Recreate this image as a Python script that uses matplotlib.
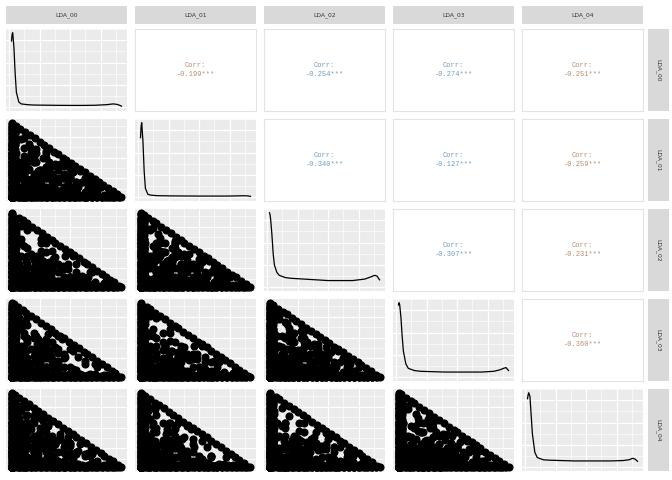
import io

import numpy as np
import pandas as pd
import matplotlib
matplotlib.use("Agg")
import matplotlib.pyplot as plt
from matplotlib.ticker import MultipleLocator

labels = ["LDA_00", "LDA_01", "LDA_02", "LDA_03", "LDA_04"]

# correlation text shown in the upper triangle (row, col) -> value
corr_text = {
    (0, 1): "-0.199", (0, 2): "-0.254", (0, 3): "-0.274", (0, 4): "-0.251",
    (1, 2): "-0.340", (1, 3): "-0.127", (1, 4): "-0.259",
    (2, 3): "-0.307", (2, 4): "-0.231",
    (3, 4): "-0.360",
}

# topic weights (percent) per article
topic_table = """
LDA_00 LDA_01 LDA_02 LDA_03 LDA_04
88 6 2 2 2
81 13 2 2 2
74 20 2 2 2
66 28 2 2 2
58 36 2 2 2
51 43 2 2 2
44 50 2 2 2
37 57 2 2 2
29 65 2 2 2
21 73 2 2 2
13 81 2 2 2
6 88 2 2 2
85 9 2 2 2
77 17 2 2 2
70 24 2 2 2
62 32 2 2 2
54 40 2 2 2
47 47 2 2 2
40 54 2 2 2
33 61 2 2 2
25 69 2 2 2
17 77 2 2 2
9 85 2 2 2
70 16 5 5 4
50 36 5 4 5
30 56 4 5 5
12 74 5 4 5
90 2 4 2 2
83 2 11 2 2
76 2 18 2 2
68 2 26 2 2
61 2 33 2 2
53 2 41 2 2
46 2 48 2 2
38 2 56 2 2
31 2 63 2 2
23 2 71 2 2
15 2 79 2 2
8 2 86 2 2
86 2 8 2 2
79 2 15 2 2
72 2 22 2 2
64 2 30 2 2
57 2 37 2 2
50 2 44 2 2
42 2 52 2 2
35 2 59 2 2
27 2 67 2 2
19 2 75 2 2
11 2 83 2 2
66 5 20 5 4
46 4 40 5 5
26 5 60 4 5
10 5 76 5 4
87 2 2 7 2
80 2 2 14 2
72 2 2 22 2
64 2 2 30 2
57 2 2 37 2
49 2 2 45 2
42 2 2 52 2
34 2 2 60 2
26 2 2 68 2
18 2 2 76 2
11 2 2 83 2
4 2 2 90 2
84 2 2 10 2
76 2 2 18 2
68 2 2 26 2
61 2 2 33 2
53 2 2 41 2
45 2 2 49 2
38 2 2 56 2
30 2 2 64 2
22 2 2 72 2
14 2 2 80 2
7 2 2 87 2
72 5 4 14 5
52 4 5 34 5
32 5 5 54 4
14 4 5 72 5
89 2 2 2 5
82 2 2 2 12
75 2 2 2 19
67 2 2 2 27
59 2 2 2 35
52 2 2 2 42
44 2 2 2 50
36 2 2 2 58
28 2 2 2 66
20 2 2 2 74
12 2 2 2 82
5 2 2 2 89
85 2 2 2 9
78 2 2 2 16
71 2 2 2 23
63 2 2 2 31
55 2 2 2 39
48 2 2 2 46
40 2 2 2 54
32 2 2 2 62
24 2 2 2 70
16 2 2 2 78
8 2 2 2 86
68 5 5 4 18
48 4 5 5 38
28 5 4 5 58
10 5 5 4 76
2 88 6 2 2
2 80 14 2 2
2 73 21 2 2
2 65 29 2 2
2 57 37 2 2
2 50 44 2 2
2 42 52 2 2
2 35 59 2 2
2 27 67 2 2
2 19 75 2 2
2 12 82 2 2
2 5 89 2 2
2 84 10 2 2
2 77 17 2 2
2 69 25 2 2
2 61 33 2 2
2 54 40 2 2
2 46 48 2 2
2 38 56 2 2
2 31 63 2 2
2 23 71 2 2
2 15 79 2 2
2 8 86 2 2
5 70 16 4 5
4 50 36 5 5
5 30 56 5 4
5 12 74 4 5
2 90 2 4 2
2 83 2 11 2
2 75 2 19 2
2 68 2 26 2
2 60 2 34 2
2 52 2 42 2
2 45 2 49 2
2 37 2 57 2
2 30 2 64 2
2 22 2 72 2
2 14 2 80 2
2 7 2 87 2
2 87 2 7 2
2 79 2 15 2
2 71 2 23 2
2 64 2 30 2
2 56 2 38 2
2 49 2 45 2
2 41 2 53 2
2 33 2 61 2
2 26 2 68 2
2 18 2 76 2
2 10 2 84 2
5 66 4 20 5
4 46 5 40 5
5 26 5 60 4
4 10 5 76 5
2 87 2 2 7
2 79 2 2 15
2 72 2 2 22
2 64 2 2 30
2 56 2 2 38
2 48 2 2 46
2 41 2 2 53
2 33 2 2 61
2 25 2 2 69
2 17 2 2 77
2 10 2 2 84
2 3 2 2 91
2 83 2 2 11
2 76 2 2 18
2 68 2 2 26
2 60 2 2 34
2 52 2 2 42
2 45 2 2 49
2 37 2 2 57
2 29 2 2 65
2 21 2 2 73
2 14 2 2 80
2 6 2 2 88
5 72 4 5 14
4 52 5 5 34
5 32 5 4 54
5 14 4 5 72
2 2 89 5 2
2 2 81 13 2
2 2 74 20 2
2 2 66 28 2
2 2 58 36 2
2 2 51 43 2
2 2 43 51 2
2 2 36 58 2
2 2 28 66 2
2 2 20 74 2
2 2 13 81 2
2 2 5 89 2
2 2 85 9 2
2 2 77 17 2
2 2 70 24 2
2 2 62 32 2
2 2 55 39 2
2 2 47 47 2
2 2 40 54 2
2 2 32 62 2
2 2 24 70 2
2 2 16 78 2
2 2 9 85 2
5 4 68 18 5
5 5 48 38 4
4 5 28 58 5
5 5 10 76 4
2 2 90 2 4
2 2 82 2 12
2 2 75 2 19
2 2 67 2 27
2 2 60 2 34
2 2 52 2 42
2 2 45 2 49
2 2 37 2 57
2 2 29 2 65
2 2 22 2 72
2 2 14 2 80
2 2 7 2 87
2 2 86 2 8
2 2 78 2 16
2 2 71 2 23
2 2 63 2 31
2 2 56 2 38
2 2 48 2 46
2 2 41 2 53
2 2 33 2 61
2 2 25 2 69
2 2 18 2 76
2 2 10 2 84
4 5 70 5 16
5 5 50 4 36
5 4 30 5 56
5 5 12 4 74
2 2 2 88 6
2 2 2 81 13
2 2 2 73 21
2 2 2 65 29
2 2 2 58 36
2 2 2 50 44
2 2 2 43 51
2 2 2 35 59
2 2 2 27 67
2 2 2 19 75
2 2 2 12 82
2 2 2 4 90
2 2 2 84 10
2 2 2 77 17
2 2 2 69 25
2 2 2 62 32
2 2 2 54 40
2 2 2 47 47
2 2 2 39 55
2 2 2 31 63
2 2 2 23 71
2 2 2 15 79
2 2 2 8 86
5 5 4 66 20
4 5 5 46 40
5 4 5 26 60
5 5 4 10 76
92 2 2 2 2
2 92 2 2 2
2 2 92 2 2
2 2 2 92 2
2 2 2 2 92
60 20 16 2 2
20 50 26 2 2
35 15 46 2 2
10 30 56 2 2
45 40 11 2 2
15 10 71 2 2
50 10 2 36 2
25 35 2 36 2
12 62 2 22 2
40 25 2 31 2
8 15 2 73 2
70 8 2 18 2
30 30 2 2 36
55 20 2 2 21
15 45 2 2 36
10 12 2 2 74
65 12 2 2 19
22 60 2 2 14
40 2 20 36 2
18 2 42 36 2
55 2 30 11 2
12 2 15 69 2
30 2 55 11 2
62 2 12 22 2
25 2 40 2 31
50 2 15 2 31
10 2 60 2 26
35 2 25 2 36
14 2 18 2 64
68 2 20 2 8
45 2 2 25 26
20 2 2 50 26
30 2 2 15 51
62 2 2 18 16
10 2 2 30 56
35 2 2 45 16
2 40 30 26 2
2 20 20 56 2
2 55 15 26 2
2 15 50 31 2
2 30 45 21 2
2 65 10 21 2
2 35 25 2 36
2 15 55 2 26
2 50 30 2 16
2 25 15 2 56
2 60 20 2 16
2 12 40 2 44
2 45 2 30 21
2 20 2 45 31
2 30 2 15 51
2 60 2 20 16
2 12 2 60 24
2 35 2 40 21
2 2 40 30 26
2 2 20 50 26
2 2 55 15 26
2 2 15 25 56
2 2 30 45 21
2 2 65 10 21
20 20 20 20 20
30 25 20 15 10
10 15 20 25 30
40 10 10 20 20
15 35 15 10 25
25 10 35 20 10
12 22 8 40 18
35 30 5 5 25
5 40 25 25 5
28 5 28 5 34
18 18 40 12 12
8 8 30 30 24
45 15 15 15 10
10 45 10 25 10
22 8 8 52 10
6 26 6 6 56
33 33 3 28 3
3 28 38 3 28
50 25 3 3 19
4 4 46 22 24
55 20 12 8 5
5 55 20 12 8
8 5 55 20 12
12 8 5 55 20
20 12 8 5 55
40 35 10 10 5
5 40 35 10 10
10 5 40 35 10
10 10 5 40 35
35 10 10 5 40
30 5 45 15 5
5 30 5 45 15
15 5 30 5 45
45 15 5 30 5
5 45 15 5 30
70 10 8 6 6
6 70 10 8 6
6 6 70 10 8
8 6 6 70 10
10 8 6 6 70
25 25 25 15 10
10 25 25 25 15
15 10 25 25 25
25 15 10 25 25
25 25 15 10 25
62 25 5 4 4
4 62 25 5 4
4 4 62 25 5
5 4 4 62 25
25 5 4 4 62
18 62 8 8 4
4 18 62 8 8
8 4 18 62 8
8 8 4 18 62
62 8 8 4 18
48 12 30 5 5
5 48 12 30 5
5 5 48 12 30
30 5 5 48 12
12 30 5 5 48
35 20 20 20 5
5 35 20 20 20
20 5 35 20 20
20 20 5 35 20
20 20 20 5 35
80 5 5 5 5
5 80 5 5 5
5 5 80 5 5
5 5 5 80 5
5 5 5 5 80
15 15 50 15 5
5 15 15 50 15
15 5 15 15 50
50 15 5 15 15
15 50 15 5 15
42 42 6 5 5
5 42 42 6 5
5 5 42 42 6
6 5 5 42 42
42 6 5 5 42
28 50 10 6 6
6 28 50 10 6
6 6 28 50 10
10 6 6 28 50
50 10 6 6 28
12 38 12 30 8
8 12 38 12 30
30 8 12 38 12
12 30 8 12 38
38 12 30 8 12
22 10 40 22 6
6 22 10 40 22
22 6 22 10 40
40 22 6 22 10
10 40 22 6 22
65 15 15 3 2
2 65 15 15 3
3 2 65 15 15
15 3 2 65 15
15 15 3 2 65
3 48 3 43 3
3 3 48 3 43
43 3 3 48 3
3 43 3 3 48
48 3 43 3 3
33 3 33 3 28
28 33 3 33 3
3 28 33 3 33
33 3 28 33 3
3 33 3 28 33
52 3 40 3 2
2 52 3 40 3
3 2 52 3 40
40 3 2 52 3
3 40 3 2 52
10 72 10 4 4
4 10 72 10 4
4 4 10 72 10
10 4 4 10 72
72 10 4 4 10
24 34 24 14 4
4 24 34 24 14
14 4 24 34 24
24 14 4 24 34
34 24 14 4 24
75 15 4 3 3
3 75 15 4 3
3 3 75 15 4
4 3 3 75 15
15 4 3 3 75
45 25 25 3 2
2 45 25 25 3
3 2 45 25 25
25 3 2 45 25
25 25 3 2 45
6 30 58 3 3
3 6 30 58 3
3 3 6 30 58
58 3 3 6 30
30 58 3 3 6
38 8 8 38 8
8 38 8 8 38
38 8 38 8 8
8 38 8 38 8
8 8 38 8 38
16 66 6 6 6
6 16 66 6 6
6 6 16 66 6
6 6 6 16 66
66 6 6 6 16
56 6 6 26 6
6 56 6 6 26
26 6 56 6 6
6 26 6 56 6
6 6 26 6 56
20 44 4 28 4
4 20 44 4 28
28 4 20 44 4
4 28 4 20 44
44 4 28 4 20
30 38 22 5 5
5 30 38 22 5
5 5 30 38 22
22 5 5 30 38
38 22 5 5 30
58 34 3 2 3
3 58 34 3 2
2 3 58 34 3
3 2 3 58 34
34 3 2 3 58
12 12 12 52 12
12 12 12 12 52
52 12 12 12 12
12 52 12 12 12
12 12 52 12 12
44 5 24 5 22
22 44 5 24 5
5 22 44 5 24
24 5 22 44 5
5 24 5 22 44
27 27 6 34 6
6 27 27 6 34
34 6 27 27 6
6 34 6 27 27
27 6 34 6 27
68 22 4 3 3
3 68 22 4 3
3 3 68 22 4
4 3 3 68 22
22 4 3 3 68
5 78 5 7 5
5 5 78 5 7
7 5 5 78 5
5 7 5 5 78
78 5 7 5 5
36 16 36 6 6
6 36 16 36 6
6 6 36 16 36
36 6 6 36 16
16 36 6 6 36
50 28 14 4 4
4 50 28 14 4
4 4 50 28 14
14 4 4 50 28
28 14 4 4 50
14 24 34 24 4
4 14 24 34 24
24 4 14 24 34
34 24 4 14 24
24 34 24 4 14
85 6 3 3 3
3 85 6 3 3
3 3 85 6 3
3 3 3 85 6
6 3 3 3 85
22 56 14 4 4
4 22 56 14 4
4 4 22 56 14
14 4 4 22 56
56 14 4 4 22
35 30 25 5 5
5 35 30 25 5
5 5 35 30 25
25 5 5 35 30
30 25 5 5 35
50 25 15 5 5
5 50 25 15 5
5 5 50 25 15
15 5 5 50 25
25 15 5 5 50
20 45 25 5 5
5 20 45 25 5
5 5 20 45 25
25 5 5 20 45
45 25 5 5 20
40 20 30 5 5
5 40 20 30 5
5 5 40 20 30
30 5 5 40 20
20 30 5 5 40
25 35 30 5 5
5 25 35 30 5
5 5 25 35 30
30 5 5 25 35
35 30 5 5 25
55 15 20 5 5
5 55 15 20 5
5 5 55 15 20
20 5 5 55 15
15 20 5 5 55
30 50 10 5 5
5 30 50 10 5
5 5 30 50 10
10 5 5 30 50
50 10 5 5 30
45 30 15 5 5
5 45 30 15 5
5 5 45 30 15
15 5 5 45 30
30 15 5 5 45
15 35 40 5 5
5 15 35 40 5
5 5 15 35 40
40 5 5 15 35
35 40 5 5 15
60 20 10 5 5
5 60 20 10 5
5 5 60 20 10
10 5 5 60 20
20 10 5 5 60
28 28 34 5 5
5 28 28 34 5
5 5 28 28 34
34 5 5 28 28
28 34 5 5 28
38 42 10 5 5
5 38 42 10 5
5 5 38 42 10
10 5 5 38 42
42 10 5 5 38
18 55 17 5 5
5 18 55 17 5
5 5 18 55 17
17 5 5 18 55
55 17 5 5 18
48 18 24 5 5
5 48 18 24 5
5 5 48 18 24
24 5 5 48 18
18 24 5 5 48
22 30 38 5 5
5 22 30 38 5
5 5 22 30 38
38 5 5 22 30
30 38 5 5 22
65 20 5 5 5
5 65 20 5 5
5 5 65 20 5
5 5 5 65 20
20 5 5 5 65
42 25 23 5 5
5 42 25 23 5
5 5 42 25 23
23 5 5 42 25
25 23 5 5 42
33 45 12 5 5
5 33 45 12 5
5 5 33 45 12
12 5 5 33 45
45 12 5 5 33
26 18 46 5 5
5 26 18 46 5
5 5 26 18 46
46 5 5 26 18
18 46 5 5 26
52 32 6 5 5
5 52 32 6 5
5 5 52 32 6
6 5 5 52 32
32 6 5 5 52
"""

# density curves on the diagonal (relative height)
dens_x = [0.02, 0.025, 0.03, 0.04, 0.05, 0.06, 0.08, 0.1, 0.15, 0.2,
          0.3, 0.4, 0.5, 0.6, 0.7, 0.8, 0.85, 0.88, 0.9, 0.92]
dens_00 = [0.89, 0.98, 1.0, 0.8, 0.45, 0.2, 0.07, 0.045, 0.035, 0.03,
           0.028, 0.026, 0.025, 0.025, 0.027, 0.035, 0.045, 0.04, 0.03, 0.015]
dens_01 = [0.8, 0.95, 1.0, 0.75, 0.35, 0.12, 0.04, 0.03, 0.022, 0.02,
           0.018, 0.017, 0.016, 0.016, 0.016, 0.018, 0.02, 0.02, 0.018, 0.012]
dens_02 = [1.0, 0.97, 0.9, 0.7, 0.45, 0.3, 0.2, 0.16, 0.13, 0.12,
           0.11, 0.1, 0.09, 0.09, 0.09, 0.11, 0.14, 0.16, 0.15, 0.1]
dens_03 = [0.97, 1.0, 0.97, 0.8, 0.55, 0.35, 0.18, 0.12, 0.09, 0.08,
           0.075, 0.07, 0.07, 0.07, 0.07, 0.08, 0.1, 0.12, 0.13, 0.09]
dens_04 = [0.92, 0.97, 1.0, 0.95, 0.7, 0.45, 0.2, 0.13, 0.1, 0.095,
           0.09, 0.085, 0.085, 0.085, 0.085, 0.09, 0.1, 0.12, 0.11, 0.08]
densities = [dens_00, dens_01, dens_02, dens_03, dens_04]

df = pd.read_csv(io.StringIO(topic_table), sep=" ") / 100.0

W, H = 672, 480
fig = plt.figure(figsize=(W / 100, H / 100), dpi=100)

col_left = [6, 135, 264, 393, 522]
panel_w = 121
row_top = [29, 119, 209, 299, 389]
panel_h = 82
strip_top, strip_h = 6, 18
rstrip_left, rstrip_w = 648, 21

lo, hi = df.values.min(), df.values.max()
pad = (hi - lo) * 0.05
lims = (lo - pad, hi + pad)

bg = "#EBEBEB"
strip_bg = "#D9D9D9"
txt_orange = "#b98c6c"
txt_blue = "#6f9cc2"


def px_axes(left, top, w, h):
    return fig.add_axes([left / W, 1 - (top + h) / H, w / W, h / H])


def style_grid(ax):
    ax.set_facecolor(bg)
    ax.xaxis.set_major_locator(MultipleLocator(0.25))
    ax.xaxis.set_minor_locator(MultipleLocator(0.125))
    ax.yaxis.set_major_locator(MultipleLocator(0.25))
    ax.yaxis.set_minor_locator(MultipleLocator(0.125))
    ax.grid(True, which="major", color="white", lw=0.9)
    ax.grid(True, which="minor", color="white", lw=0.45)
    ax.set_axisbelow(True)
    ax.tick_params(which="both", length=0, labelbottom=False, labelleft=False)
    for s in ax.spines.values():
        s.set_visible(False)


for i in range(5):
    for j in range(5):
        ax = px_axes(col_left[j], row_top[i], panel_w, panel_h)
        if i > j:
            style_grid(ax)
            ax.scatter(df[labels[j]], df[labels[i]], s=34, c="black",
                       linewidths=0, zorder=3)
            ax.set_xlim(lims)
            ax.set_ylim(lims)
        elif i == j:
            style_grid(ax)
            ax.yaxis.set_major_locator(MultipleLocator(0.3))
            ax.yaxis.set_minor_locator(MultipleLocator(0.15))
            ax.plot(dens_x, densities[i], color="black", lw=0.9)
            ax.set_xlim(lims)
            ax.set_ylim(-0.05, 1.05)
        else:
            ax.set_facecolor("white")
            ax.set_xticks([])
            ax.set_yticks([])
            for s in ax.spines.values():
                s.set_color("#E3E3E3")
                s.set_linewidth(0.8)
            color = txt_orange if j in (1, 4) else txt_blue
            ax.text(0.5, 0.5, "Corr:\n" + corr_text[(i, j)] + "***",
                    transform=ax.transAxes, ha="center", va="center",
                    fontsize=5, family="Liberation Mono", color=color,
                    linespacing=1.3)

# column strips
for j in range(5):
    ax = px_axes(col_left[j], strip_top, panel_w, strip_h)
    ax.set_facecolor(strip_bg)
    ax.set_xticks([])
    ax.set_yticks([])
    for s in ax.spines.values():
        s.set_visible(False)
    ax.text(0.5, 0.5, labels[j], transform=ax.transAxes, ha="center",
            va="center", fontsize=4.3, color="#333333")

# row strips
for i in range(5):
    ax = px_axes(rstrip_left, row_top[i], rstrip_w, panel_h)
    ax.set_facecolor(strip_bg)
    ax.set_xticks([])
    ax.set_yticks([])
    for s in ax.spines.values():
        s.set_visible(False)
    ax.text(0.5, 0.5, labels[i], transform=ax.transAxes, ha="center",
            va="center", fontsize=4.3, color="#333333", rotation=-90)

fig.savefig("out.png", dpi=100, facecolor="white")
